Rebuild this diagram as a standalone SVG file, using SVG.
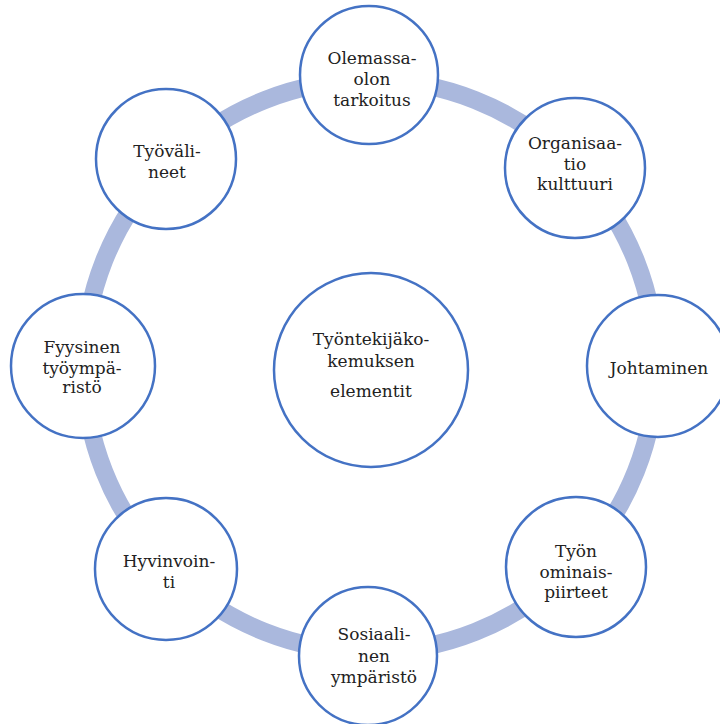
<svg xmlns="http://www.w3.org/2000/svg" width="720" height="724" viewBox="0 0 720 724">
<style>
.node{fill:#fff;stroke:#4472C4;stroke-width:2.5}
.ring{fill:none;stroke:#AAB8DD;stroke-width:18}
</style>
<rect width="720" height="724" fill="#fff"/>
<g id="connectors">
<circle class="ring" cx="370" cy="366" r="286"/>
</g>
<g font-family="DejaVu Serif, serif" font-size="17" fill="#222" text-anchor="middle">
<g id="center">
<circle class="node" cx="371" cy="370" r="97"/>
<text x="371" y="345">Työntekijäko-</text>
<text x="371" y="367">kemuksen</text>
<text x="371" y="397">elementit</text>
</g>
<g id="n-olemassaolo">
<circle class="node" cx="369" cy="75" r="69"/>
<text x="372" y="64">Olemassa-</text>
<text x="372" y="85">olon</text>
<text x="372" y="106">tarkoitus</text>
</g>
<g id="n-organisaatio">
<circle class="node" cx="575" cy="168" r="70"/>
<text x="575" y="149">Organisaa-</text>
<text x="575" y="170">tio</text>
<text x="575" y="190">kulttuuri</text>
</g>
<g id="n-johtaminen">
<circle class="node" cx="658" cy="366" r="71"/>
<text x="659" y="374">Johtaminen</text>
</g>
<g id="n-tyon">
<circle class="node" cx="576" cy="567" r="70"/>
<text x="576" y="557">Työn</text>
<text x="576" y="578">ominais-</text>
<text x="576" y="598">piirteet</text>
</g>
<g id="n-sosiaalinen">
<circle class="node" cx="368" cy="656" r="69"/>
<text x="374" y="640">Sosiaali-</text>
<text x="374" y="662">nen</text>
<text x="374" y="683">ympäristö</text>
</g>
<g id="n-hyvinvointi">
<circle class="node" cx="166" cy="569" r="71"/>
<text x="169" y="567">Hyvinvoin-</text>
<text x="169" y="588">ti</text>
</g>
<g id="n-fyysinen">
<circle class="node" cx="83" cy="366" r="72"/>
<text x="82" y="353">Fyysinen</text>
<text x="82" y="374">työympä-</text>
<text x="82" y="393">ristö</text>
</g>
<g id="n-tyovalineet">
<circle class="node" cx="166" cy="159" r="70"/>
<text x="167" y="157">Työväli-</text>
<text x="167" y="178">neet</text>
</g>
</g>
</svg>
